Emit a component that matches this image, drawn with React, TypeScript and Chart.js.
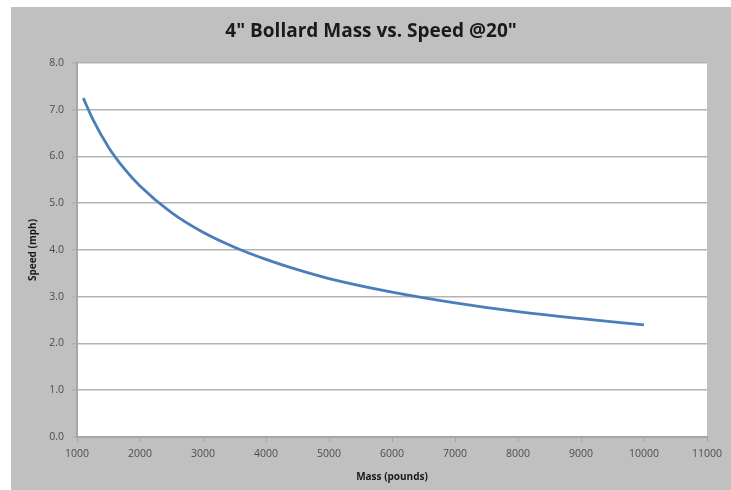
import React, { useEffect, useRef } from "react";
import { Chart, registerables } from "chart.js";

Chart.register(...registerables);

const titleText = '4" Bollard Mass vs. Speed @20"';
const xAxisTitle = "Mass (pounds)";
const yAxisTitle = "Speed (mph)";

const massPounds = [1100, 1250, 1500, 1750, 2000, 2500, 3000, 3500, 4000, 4500, 5000, 6000, 7000, 8000, 9000, 10000];
const speedMph = [7.25, 6.8, 6.2, 5.74, 5.37, 4.8, 4.38, 4.06, 3.8, 3.58, 3.39, 3.1, 2.87, 2.68, 2.53, 2.4];

const xMin = 1000;
const xMax = 11000;
const xStep = 1000;
const yMin = 0;
const yMax = 8;
const yStep = 1;

const FONT = "'Open Sans', 'Noto Sans', sans-serif";

const plotBg = {
  id: "plotBg",
  beforeDraw(chart: any) {
    const { ctx, chartArea } = chart;
    if (!chartArea) return;
    ctx.save();
    ctx.fillStyle = "#ffffff";
    ctx.fillRect(chartArea.left, chartArea.top, chartArea.right - chartArea.left, chartArea.bottom - chartArea.top);
    ctx.restore();
  },
};

const titleShift = {
  id: "titleShift",
  afterLayout(chart: any) {
    const tb = chart.titleBlock;
    if (tb) {
      tb.right = chart.width;
      tb.left = 0;
    }
  },
};

export default function App() {
  const ref = useRef<HTMLCanvasElement | null>(null);
  useEffect(() => {
    if (!ref.current) return;
    const points = massPounds.map((m, i) => ({ x: m, y: speedMph[i] }));
    const chart = new Chart(ref.current, {
      type: "scatter",
      data: {
        datasets: [
          {
            data: points,
            showLine: true,
            borderColor: "rgb(74,126,187)",
            backgroundColor: "rgb(74,126,187)",
            borderWidth: 2.8,
            pointRadius: 0,
            cubicInterpolationMode: "monotone",
          } as any,
        ],
      },
      options: {
        animation: false,
        responsive: false,
        devicePixelRatio: 1,
        layout: { padding: { top: 0, right: 24, bottom: 0, left: 0 } },
        plugins: {
          legend: { display: false },
          tooltip: { enabled: false },
          title: {
            display: true,
            text: titleText,
            color: "#1a1a1a",
            font: { family: FONT, size: 19, weight: "bold" },
            padding: { top: 13.6, bottom: 19.6 },
          },
        },
        scales: {
          x: {
            type: "linear",
            min: xMin,
            max: xMax,
            afterFit: (s: any) => {
              s.height = 53;
            },
            border: { color: "#a6a6a6", width: 2 },
            grid: { drawOnChartArea: false, drawTicks: true, tickLength: 5, color: "#a6a6a6" },
            ticks: {
              stepSize: xStep,
              color: "#4d4d4d",
              font: { family: FONT, size: 10.5 },
              padding: 6,
              maxRotation: 0,
              callback: (v: any) => String(v),
            },
            title: {
              display: true,
              text: xAxisTitle,
              color: "#1a1a1a",
              font: { family: FONT, size: 10, weight: "bold" },
              padding: { top: 0, bottom: 7 },
            },
          },
          y: {
            type: "linear",
            min: yMin,
            max: yMax,
            afterFit: (s: any) => {
              s.width = 66;
            },
            border: { color: "#a6a6a6", width: 2 },
            grid: { color: "#b3b3b3", lineWidth: 1.6, tickLength: 5, drawTicks: true },
            ticks: {
              stepSize: yStep,
              color: "#4d4d4d",
              font: { family: FONT, size: 10.5 },
              padding: 8,
              callback: (v: any) => Number(v).toFixed(1),
            },
            title: {
              display: true,
              text: yAxisTitle,
              color: "#1a1a1a",
              font: { family: FONT, size: 10, weight: "bold" },
              padding: { top: 16, bottom: 0 },
            },
          },
        },
      },
      plugins: [plotBg, titleShift],
    });
    return () => chart.destroy();
  }, []);
  return (
    <div style={{ position: "fixed", left: 11, top: 7, width: 720, height: 483, background: "#c0c0c0" }}>
      <canvas ref={ref} width={720} height={483} style={{ display: "block", width: 720, height: 483 }} />
    </div>
  );
}
